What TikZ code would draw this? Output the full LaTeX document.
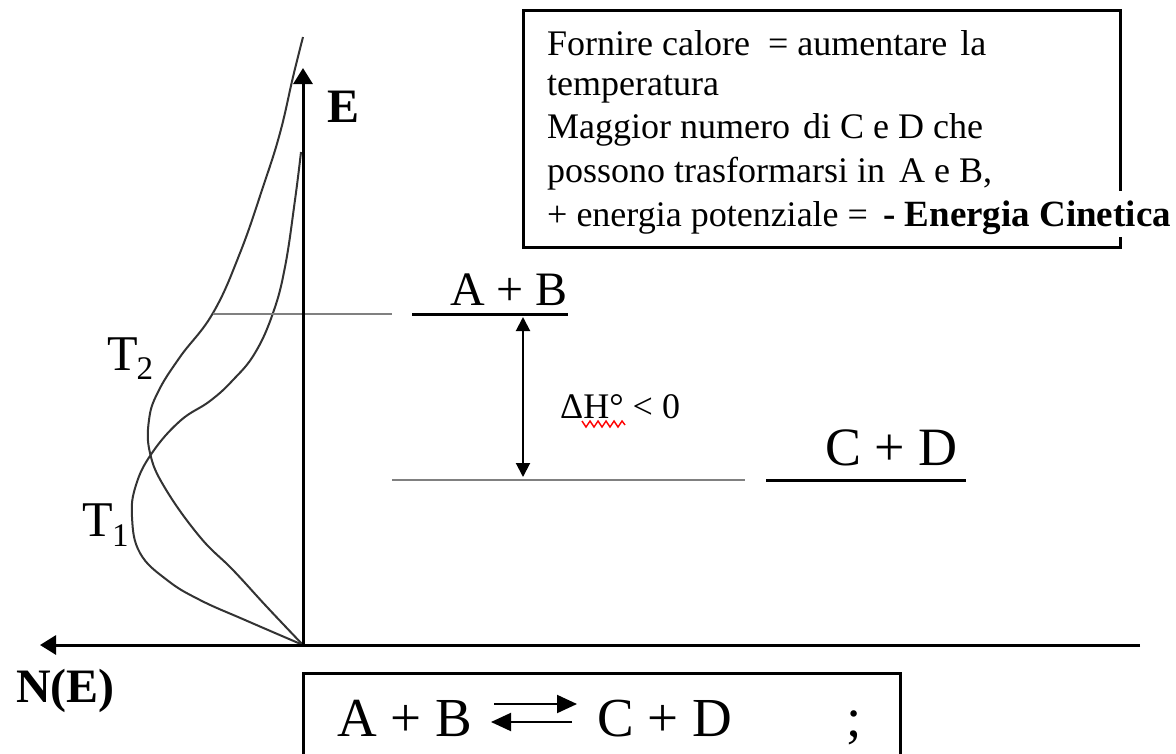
\documentclass[tikz,border=0pt]{standalone}
\usepackage{fontspec}
\setmainfont{Liberation Serif}
\usetikzlibrary{arrows.meta}
\begin{document}
\begin{tikzpicture}[x=1pt,y=-1pt,
  axis/.style={line width=3pt,-{Triangle[length=16pt,width=19pt]}},
  curve/.style={line width=2pt,draw=black!80,smooth,tension=0.7},
  level/.style={line width=3pt},
  glevel/.style={line width=2.7pt,draw=black!50},
  dharrow/.style={line width=2pt,{Triangle[length=14pt,width=14pt]}-{Triangle[length=14pt,width=14pt]}},
  eqarrow/.style={line width=2pt,-{Triangle[length=20pt,width=18pt]}},
  frame/.style={line width=3pt},
  txt/.style={inner sep=0pt,anchor=base west},
  boxtxt/.style={txt,font=\fontsize{36}{36}\selectfont},
]
\useasboundingbox (0,0) rectangle (1176,753);

% axes
\coordinate (O) at (303,645);
\coordinate (Etip) at (303,68);
\coordinate (Ntip) at (40,645);
\coordinate (Xend) at (1140,645);

% distribution curves
\draw[curve] plot coordinates {(303,37) (293,77) (280,133) (263,187) (240,253) (213,313) (180,357) (158,392) (149,420) (150,453) (165,488) (200,537) (233,570) (267,607) (303,645)};
\draw[curve] plot coordinates {(301,152) (295,200) (285,267) (273,313) (255,353) (233,380) (210,401) (180,421) (152,453) (136,485) (132,517) (140,553) (167,580) (200,600) (245,620) (303,645)};

% energy levels
\coordinate (ABg1) at (213,314);
\coordinate (ABg2) at (392,314);
\coordinate (AB1) at (412,314);
\coordinate (AB2) at (568,314);
\coordinate (CDg1) at (392,480);
\coordinate (CDg2) at (745,480);
\coordinate (CD1) at (766,480);
\coordinate (CD2) at (966,480);
\draw[glevel] (ABg1) -- (ABg2);
\draw[level] (AB1) -- (AB2);
\draw[glevel] (CDg1) -- (CDg2);
\draw[level] (CD1) -- (CD2);

\draw[axis] (O) -- (Etip);
\draw[axis] (Xend) -- (Ntip);

% Delta H arrow
\coordinate (dhTop) at (523,317);
\coordinate (dhBot) at (523,477);
\draw[dharrow] (dhTop) -- (dhBot);
\node[txt,font=\fontsize{36}{36}\selectfont] (dH) at (560,418) {ΔH° < 0};
\draw[red,line width=1.4pt] (582,421) -- (586,427) -- (590,421) -- (594,427) -- (598,421) -- (602,427) -- (606,421) -- (610,427) -- (614,421) -- (618,427) -- (622,421) -- (625,425);

% labels
\node[txt,font=\bfseries\fontsize{48}{48}\selectfont] (Elab) at (327,122) {E};
\node[txt,font=\bfseries\fontsize{48}{48}\selectfont] (NElab) at (16,702) {N(E)};
\node[txt,font=\fontsize{50}{50}\selectfont] (T2) at (107,370) {T\kern-1pt\raisebox{-9pt}{\fontsize{33}{33}\selectfont 2}};
\node[txt,font=\fontsize{50}{50}\selectfont] (T1) at (82,536) {T\kern-0.5pt\raisebox{-10pt}{\fontsize{33}{33}\selectfont 1}};
\node[txt,font=\fontsize{48}{48}\selectfont] (ABlab) at (450,305) {A + B};
\node[txt,font=\fontsize{54}{54}\selectfont] (CDlab) at (825,465) {C + D};

% top text box
\draw[frame] (523,10) rectangle (1120,247);
\node[boxtxt] (L1) at (547,55) {Fornire calore\ \ = aumentare\hspace{4pt} la};
\node[boxtxt] (L2) at (547,95) {temperatura};
\node[boxtxt] (L3) at (547,138) {Maggior numero\hspace{4pt} di C e D che};
\node[boxtxt] (L4) at (547,182) {possono trasformarsi in\hspace{5pt} A e B,};
\node[boxtxt] (L5) at (547,226) {+ energia potenziale =};
\node[txt,fill=white,text height=35pt,text depth=11pt,font=\bfseries\fontsize{37}{37}\selectfont] (EC) at (883,226) {- Energia Cinetica};

% bottom equation box
\coordinate (bb1) at (303,756);
\coordinate (bb2) at (303,673);
\coordinate (bb3) at (900,673);
\coordinate (bb4) at (900,756);
\draw[frame] (bb1) -- (bb2) -- (bb3) -- (bb4);
\node[txt,font=\fontsize{55}{55}\selectfont] (ABeq) at (337,736) {A + B};
\node[txt,font=\fontsize{55}{55}\selectfont] (CDeq) at (597,736) {C + D};
\node[txt,font=\fontsize{55}{55}\selectfont] (semi) at (846,736) {;};
\coordinate (fw1) at (494,704);
\coordinate (fw2) at (577,704);
\coordinate (bw1) at (572,722);
\coordinate (bw2) at (491,722);
\draw[eqarrow] (fw1) -- (fw2);
\draw[eqarrow] (bw1) -- (bw2);
\end{tikzpicture}
\end{document}
